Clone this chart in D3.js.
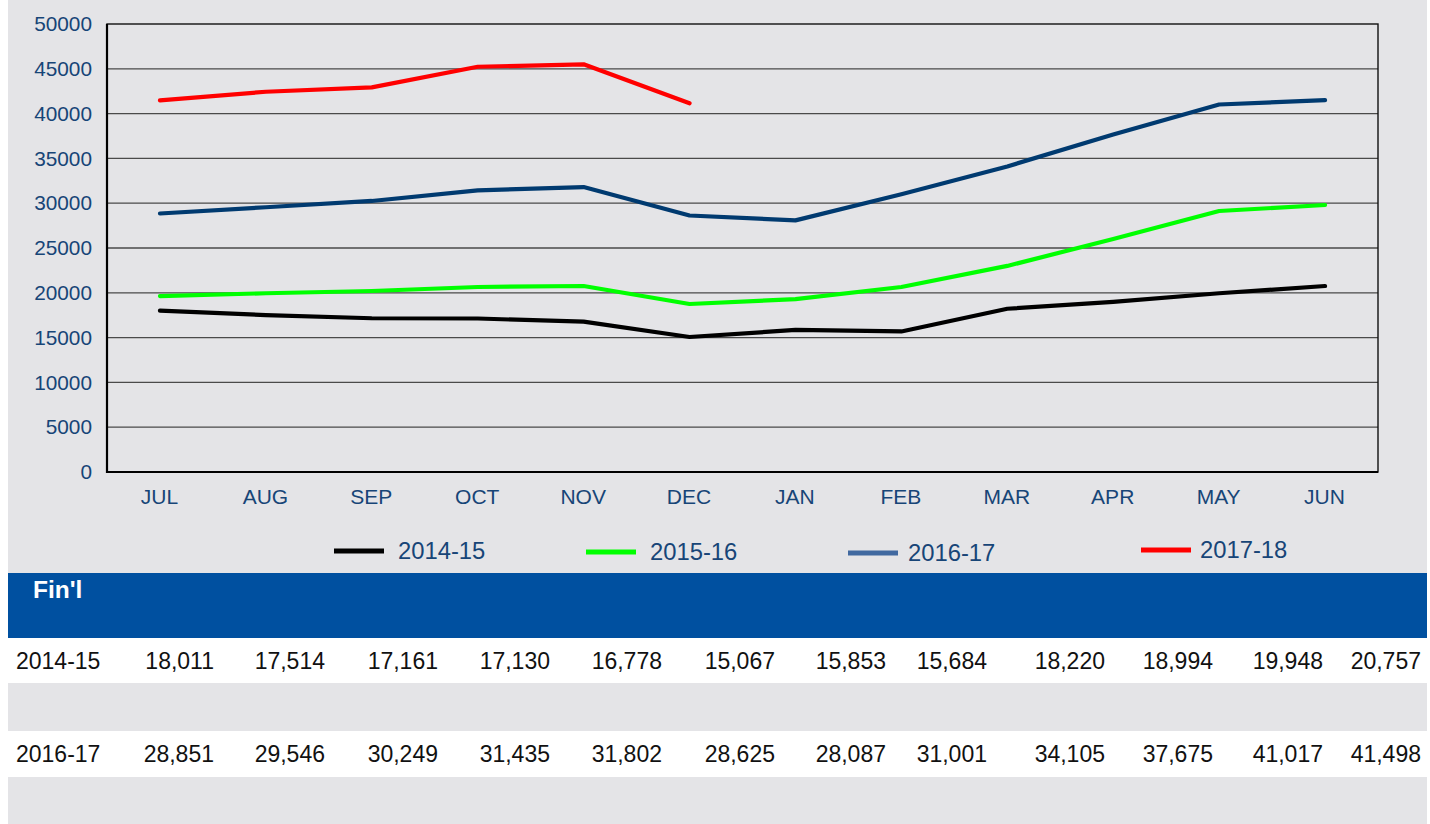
<!DOCTYPE html>
<html>
<head>
<meta charset="utf-8">
<script src="https://cdn.jsdelivr.net/npm/d3@7"></script>
<style>
  html, body { margin: 0; padding: 0; background: #ffffff; }
  svg { display: block; font-family: "Liberation Sans", Arial, sans-serif; }
</style>
</head>
<body>
<svg id="chart" width="1430" height="824"></svg>
<script>
// Fiscal-year months (July to June)
const months = ["JUL","AUG","SEP","OCT","NOV","DEC","JAN","FEB","MAR","APR","MAY","JUN"];
const seriesNames = ["2014-15","2015-16","2016-17","2017-18"];

const fy2014 = [18011,17514,17161,17130,16778,15067,15853,15684,18220,18994,19948,20757];
const fy2015 = [19640,19950,20200,20650,20760,18750,19300,20650,23000,26000,29130,29800];
const fy2016 = [28851,29546,30249,31435,31802,28625,28087,31001,34105,37675,41017,41498];
const fy2017 = [41480,42440,42930,45230,45500,41150];

const yTicks = [0,5000,10000,15000,20000,25000,30000,35000,40000,45000,50000];

// Table rows shown below the chart (blank rows are drawn as empty shaded bands)
const tableRows = [
  { label: "2014-15", values: fy2014 },
  null,
  { label: "2016-17", values: fy2016 },
  null
];
const tableHeader = "Fin'l";

// ---- styling / layout ----
const lineColors = ["#000000", "#00ff00", "#003a70", "#ff0000"];
const legendSwatchColors = ["#000000", "#00ff00", "#4169a0", "#ff0000"];
const labelBlue = "#174577";
const panelGray = "#e4e4e7";

const plot = { left: 107, right: 1378, top: 24, bottom: 472 };
const legendX = [334, 586, 848, 1141];
const legendTextGap = [64, 64, 60, 59];
const legendDy = [0, 1, 2, -1];
const colRight = [214, 325, 438, 550, 662, 775, 886, 987, 1105, 1213, 1323, 1421];

const svg = d3.select("#chart");

// background panel behind the chart and legend
svg.append("rect").attr("x", 8).attr("y", 0).attr("width", 1419).attr("height", 573).attr("fill", panelGray);

const x = d3.scalePoint().domain(months).range([plot.left, plot.right]).padding(0.5);
const y = d3.scaleLinear().domain([0, 50000]).range([plot.bottom, plot.top]);

// horizontal gridlines
svg.append("g").selectAll("line").data(yTicks.filter(t => t > 0 && t < 50000)).join("line")
  .attr("x1", plot.left).attr("x2", plot.right)
  .attr("y1", d => y(d)).attr("y2", d => y(d))
  .attr("stroke", "#4a4a4a").attr("stroke-width", 1.3);

// plot frame
svg.append("rect").attr("x", plot.left).attr("y", plot.top)
  .attr("width", plot.right - plot.left).attr("height", plot.bottom - plot.top)
  .attr("fill", "none").attr("stroke", "#111").attr("stroke-width", 1.4);
svg.append("line").attr("x1", plot.left).attr("x2", plot.left).attr("y1", plot.top).attr("y2", plot.bottom + 1)
  .attr("stroke", "#000").attr("stroke-width", 2.2);
svg.append("line").attr("x1", plot.left).attr("x2", plot.right).attr("y1", plot.bottom).attr("y2", plot.bottom)
  .attr("stroke", "#000").attr("stroke-width", 2.2);

// y axis
const yAxis = svg.append("g").attr("transform", `translate(${plot.left},0)`)
  .call(d3.axisLeft(y).tickValues(yTicks).tickSize(0).tickPadding(15).tickFormat(d3.format("d")));
yAxis.select(".domain").remove();
yAxis.selectAll("text").attr("fill", labelBlue).style("font-size", "20.8px");

// x axis
const xAxis = svg.append("g").attr("transform", `translate(0,${plot.bottom})`)
  .call(d3.axisBottom(x).tickSize(0).tickPadding(17));
xAxis.select(".domain").remove();
xAxis.selectAll("text").attr("fill", labelBlue).style("font-size", "21px").attr("dx", "-1");

// series lines
const allSeries = [fy2014, fy2015, fy2016, fy2017];
const line = d3.line().x((d, i) => x(months[i])).y(d => y(d));
allSeries.forEach((vals, k) => {
  svg.append("path").datum(vals)
    .attr("d", line)
    .attr("fill", "none")
    .attr("stroke", lineColors[k])
    .attr("stroke-width", 4.2)
    .attr("stroke-linejoin", "round")
    .attr("stroke-linecap", "round");
});

// legend
const legend = svg.append("g");
seriesNames.forEach((name, k) => {
  const g = legend.append("g").attr("transform", `translate(${legendX[k]},${551 + legendDy[k]})`);
  g.append("rect").attr("x", 0).attr("y", -2.5).attr("width", 50).attr("height", 5).attr("fill", legendSwatchColors[k]);
  g.append("text").attr("x", legendTextGap[k]).attr("y", 8).attr("fill", labelBlue)
    .style("font-size", "23.8px").text(name);
});

// data table
svg.append("rect").attr("x", 8).attr("y", 573).attr("width", 1419).attr("height", 65).attr("fill", "#0050a0");
svg.append("text").attr("x", 33).attr("y", 598).attr("fill", "#ffffff")
  .style("font-size", "24.5px").style("font-weight", "bold").text(tableHeader);

const rowTops = [638, 683, 731, 777];
const rowHeights = [45, 48, 46, 47];
tableRows.forEach((row, r) => {
  svg.append("rect").attr("x", 8).attr("y", rowTops[r]).attr("width", 1419).attr("height", rowHeights[r])
    .attr("fill", r % 2 === 0 ? "#ffffff" : panelGray);
  if (!row) return;
  const baseline = rowTops[r] + 31;
  svg.append("text").attr("x", 16).attr("y", baseline).attr("fill", "#111")
    .style("font-size", "23px").text(row.label);
  svg.append("g").selectAll("text").data(row.values).join("text")
    .attr("x", (d, i) => colRight[i]).attr("y", baseline)
    .attr("text-anchor", "end").attr("fill", "#111")
    .style("font-size", "23px").text(d => d3.format(",")(d));
});
</script>
</body>
</html>
